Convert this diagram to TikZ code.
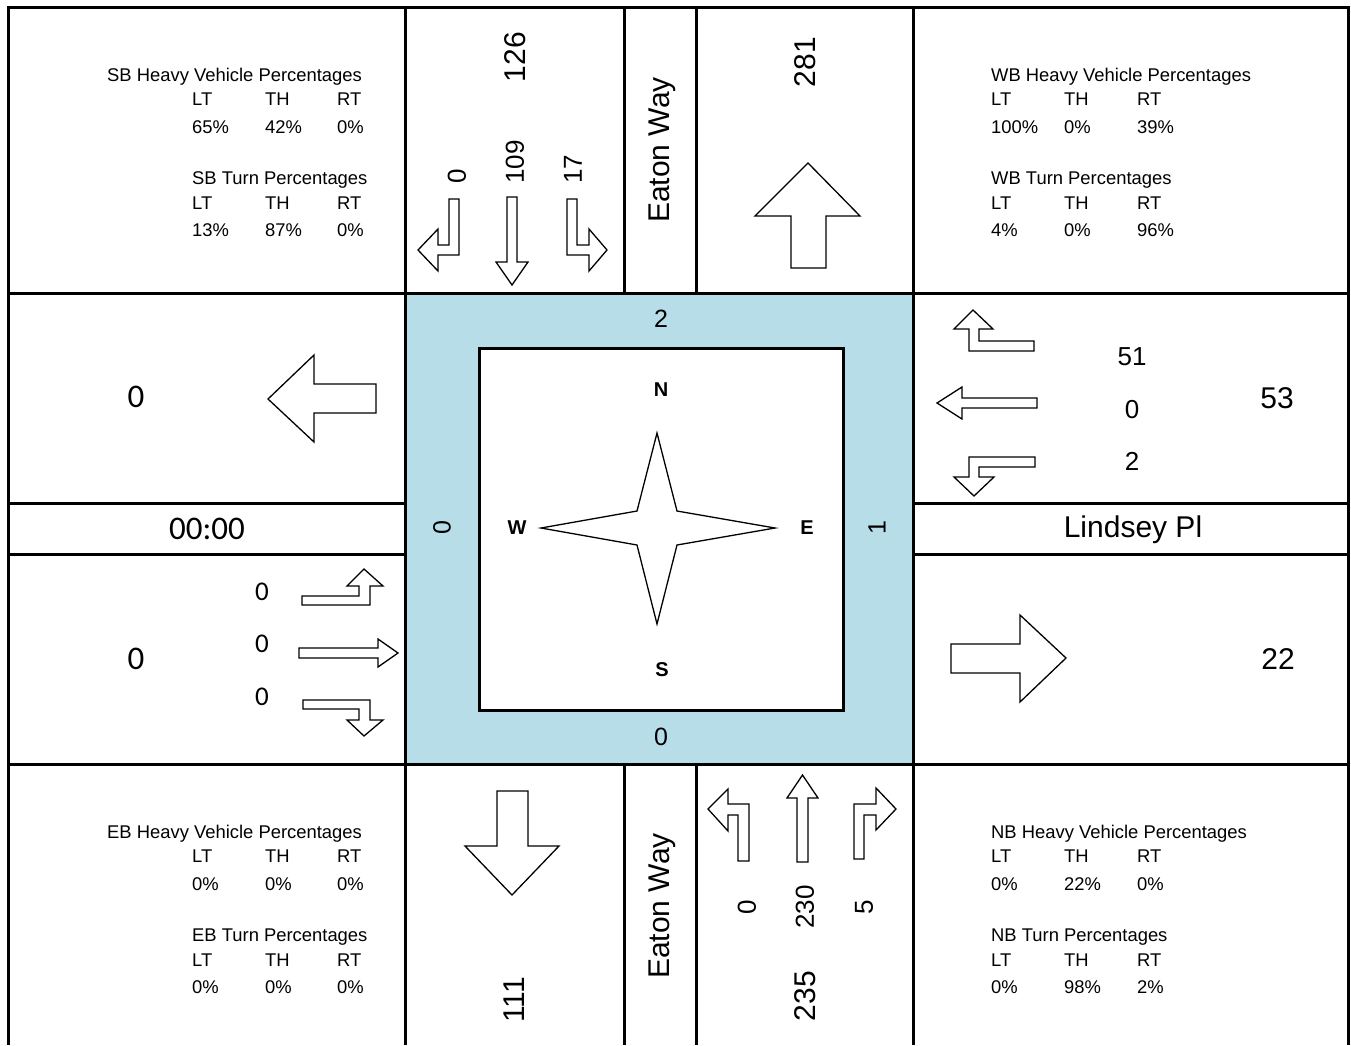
\documentclass[tikz,border=0pt]{standalone}
\usepackage{fontspec}
\setmainfont{Liberation Sans}
\newfontfamily\calfont{Carlito}
\definecolor{centreblue}{HTML}{B7DDE8}
\begin{document}
\begin{tikzpicture}[x=1pt,y=-1pt,
  gridline/.style={line width=3pt},
  arr/.style={draw, line width=1.3pt, fill=white, line join=miter},
  big/.style={font=\fontsize{30}{36}\selectfont, inner sep=0pt},
  lane/.style={font=\fontsize{26}{30}\selectfont, inner sep=0pt},
  bluenum/.style={font=\fontsize{25}{30}\selectfont, inner sep=0pt},
  small/.style={font=\fontsize{18.4}{22}\selectfont, inner sep=0pt, anchor=base west},
  cmp/.style={font=\bfseries\fontsize{20}{24}\selectfont, inner sep=0pt},
  calbig/.style={font=\calfont\fontsize{33}{38}\selectfont, inner sep=0pt},
  callane/.style={font=\calfont\fontsize{27}{32}\selectfont, inner sep=0pt}]
\useasboundingbox (0,0) rectangle (1351,1045);
% centre
\fill[centreblue] (405.5,293) rectangle (913.5,764.5);
\draw[line width=3pt, fill=white] (479,348) rectangle (843,710);
% grid
\draw[gridline] (8.5,7.5) -- (1348.5,7.5);
\draw[gridline] (8.5,6) -- (8.5,1045);
\draw[gridline] (1348.5,6) -- (1348.5,1045);
\draw[gridline] (405.5,6) -- (405.5,1045);
\draw[gridline] (913.5,6) -- (913.5,1045);
\draw[gridline] (624.5,7.5) -- (624.5,293);
\draw[gridline] (696,7.5) -- (696,293);
\draw[gridline] (624.5,764.5) -- (624.5,1045);
\draw[gridline] (696,764.5) -- (696,1045);
\draw[gridline] (7,293) -- (1350,293);
\draw[gridline] (7,764.5) -- (1350,764.5);
\draw[gridline] (7,503.5) -- (405.5,503.5);
\draw[gridline] (7,554.5) -- (405.5,554.5);
\draw[gridline] (913.5,503.5) -- (1350,503.5);
\draw[gridline] (913.5,554.5) -- (1350,554.5);
% compass star
\draw[line width=1.3pt, fill=white, line join=miter] (657,433) -- (677,511) -- (775,528) -- (677,545) -- (657,624) -- (637,545) -- (541,528) -- (637,511) -- cycle;
\node[cmp] (cn) at (661,390) {N};
\node[cmp] (cs) at (662,670) {S};
\node[cmp] (cw) at (517,528) {W};
\node[cmp] (ce) at (807,528) {E};
\node[bluenum] (bn) at (661,319) {2};
\node[bluenum] (bs) at (661,737) {0};
\node[bluenum, rotate=90] (bw) at (442,528) {0};
\node[bluenum, rotate=90] (be) at (877,528) {1};
% SB approach
\draw[arr] (459,199) -- (449,199) -- (449,245) -- (438,245) -- (438,229) -- (418,250) -- (438,271) -- (438,255) -- (459,255) -- cycle;
\draw[arr] (507,197) -- (517,197) -- (517,262) -- (528,262) -- (512,285) -- (496,262) -- (507,262) -- cycle;
\draw[arr] (567,199) -- (577,199) -- (577,245) -- (589,245) -- (589,229) -- (607,250) -- (589,271) -- (589,255) -- (567,255) -- cycle;
\node[big, rotate=90] (sbtot) at (515,57) {126};
\node[lane, rotate=90, anchor=west] (sblt) at (457,184) {0};
\node[lane, rotate=90, anchor=west] (sbth) at (515,184) {109};
\node[lane, rotate=90, anchor=west] (sbrt) at (573,184) {17};
\node[big, rotate=90] (eatonn) at (662,150) {Eaton Way};
% N exit
\draw[arr] (808,163) -- (860,216) -- (826,216) -- (826,268) -- (791,268) -- (791,216) -- (755,216) -- cycle;
\node[big, rotate=90] (nexit) at (805,62) {281};
% W exit
\draw[arr] (268,399) -- (314,355) -- (314,384) -- (376,384) -- (376,413) -- (314,413) -- (314,442) -- cycle;
\node[calbig] (wexit) at (136,397) {0};
\node[calbig] (time) at (207,529) {00:00};
% EB approach
\draw[arr] (302,605) -- (370,605) -- (370,586) -- (383,586) -- (364,569) -- (347,586) -- (359,586) -- (359,596) -- (302,596) -- cycle;
\draw[arr] (299,648) -- (378,648) -- (378,639) -- (398,653) -- (378,667) -- (378,658) -- (299,658) -- cycle;
\draw[arr] (303,700) -- (370,700) -- (370,720) -- (383,720) -- (364,736) -- (347,720) -- (359,720) -- (359,709) -- (303,709) -- cycle;
\node[calbig] (ebtot) at (136,659) {0};
\node[callane] (eblt) at (262,592) {0};
\node[callane] (ebth) at (262,644) {0};
\node[callane] (ebrt) at (262,697) {0};
% WB approach
\draw[arr] (1034,351) -- (969,351) -- (969,329) -- (954,329) -- (973,310) -- (993,329) -- (979,329) -- (979,341) -- (1034,341) -- cycle;
\draw[arr] (1037,398) -- (962,398) -- (962,387) -- (937,403) -- (962,419) -- (962,408) -- (1037,408) -- cycle;
\draw[arr] (1035,457) -- (969,457) -- (969,477) -- (954,477) -- (974,496) -- (994,477) -- (979,477) -- (979,467) -- (1035,467) -- cycle;
\node[lane] (wblt) at (1132,357) {51};
\node[lane] (wbth) at (1132,410) {0};
\node[lane] (wbrt) at (1132,461) {2};
\node[big] (wbtot) at (1277,398) {53};
\node[big] (lindsey) at (1133,530) {Lindsey Pl};
% E exit
\draw[arr] (1066,658) -- (1020,615) -- (1020,644) -- (951,644) -- (951,673) -- (1020,673) -- (1020,702) -- cycle;
\node[big] (eexit) at (1278,659) {22};
% S exit
\draw[arr] (497,791) -- (528,791) -- (528,846) -- (559,846) -- (512,895) -- (465,846) -- (497,846) -- cycle;
\node[big, rotate=90] (sexit) at (514,1000) {111};
\node[big, rotate=90] (eatons) at (662,906) {Eaton Way};
% NB approach
\draw[arr] (749,861) -- (738,861) -- (738,815) -- (728,815) -- (728,831) -- (708,809) -- (728,789) -- (728,804) -- (749,804) -- cycle;
\draw[arr] (797,862) -- (808,862) -- (808,798) -- (818,798) -- (802.5,775) -- (787,798) -- (797,798) -- cycle;
\draw[arr] (854,859) -- (864,859) -- (864,815) -- (876,815) -- (876,830) -- (896,809) -- (876,788) -- (876,804) -- (854,804) -- cycle;
\node[lane, rotate=90] (nblt) at (747,907) {0};
\node[lane, rotate=90] (nbth) at (805,907) {230};
\node[lane, rotate=90] (nbrt) at (864,907) {5};
\node[big, rotate=90] (nbtot) at (805,996) {235};
% SB text
\node[small] (sbh) at (107,81) {SB Heavy Vehicle Percentages};
\node[small] (sbh1) at (192,105) {LT};
\node[small] (sbh2) at (265,105) {TH};
\node[small] (sbh3) at (337,105) {RT};
\node[small] (sbh4) at (192,133) {65\%};
\node[small] (sbh5) at (265,133) {42\%};
\node[small] (sbh6) at (337,133) {0\%};
\node[small] (sbt) at (192,184) {SB Turn Percentages};
\node[small] (sbt1) at (192,209) {LT};
\node[small] (sbt2) at (265,209) {TH};
\node[small] (sbt3) at (337,209) {RT};
\node[small] (sbt4) at (192,236) {13\%};
\node[small] (sbt5) at (265,236) {87\%};
\node[small] (sbt6) at (337,236) {0\%};
% WB text
\node[small] (wbh) at (991,81) {WB Heavy Vehicle Percentages};
\node[small] (wbh1) at (991,105) {LT};
\node[small] (wbh2) at (1064,105) {TH};
\node[small] (wbh3) at (1137,105) {RT};
\node[small] (wbh4) at (991,133) {100\%};
\node[small] (wbh5) at (1064,133) {0\%};
\node[small] (wbh6) at (1137,133) {39\%};
\node[small] (wbt) at (991,184) {WB Turn Percentages};
\node[small] (wbt1) at (991,209) {LT};
\node[small] (wbt2) at (1064,209) {TH};
\node[small] (wbt3) at (1137,209) {RT};
\node[small] (wbt4) at (991,236) {4\%};
\node[small] (wbt5) at (1064,236) {0\%};
\node[small] (wbt6) at (1137,236) {96\%};
% EB text
\node[small] (ebh) at (107,838) {EB Heavy Vehicle Percentages};
\node[small] (ebh1) at (192,862) {LT};
\node[small] (ebh2) at (265,862) {TH};
\node[small] (ebh3) at (337,862) {RT};
\node[small] (ebh4) at (192,890) {0\%};
\node[small] (ebh5) at (265,890) {0\%};
\node[small] (ebh6) at (337,890) {0\%};
\node[small] (ebt) at (192,941) {EB Turn Percentages};
\node[small] (ebt1) at (192,966) {LT};
\node[small] (ebt2) at (265,966) {TH};
\node[small] (ebt3) at (337,966) {RT};
\node[small] (ebt4) at (192,993) {0\%};
\node[small] (ebt5) at (265,993) {0\%};
\node[small] (ebt6) at (337,993) {0\%};
% NB text
\node[small] (nbh) at (991,838) {NB Heavy Vehicle Percentages};
\node[small] (nbh1) at (991,862) {LT};
\node[small] (nbh2) at (1064,862) {TH};
\node[small] (nbh3) at (1137,862) {RT};
\node[small] (nbh4) at (991,890) {0\%};
\node[small] (nbh5) at (1064,890) {22\%};
\node[small] (nbh6) at (1137,890) {0\%};
\node[small] (nbt) at (991,941) {NB Turn Percentages};
\node[small] (nbt1) at (991,966) {LT};
\node[small] (nbt2) at (1064,966) {TH};
\node[small] (nbt3) at (1137,966) {RT};
\node[small] (nbt4) at (991,993) {0\%};
\node[small] (nbt5) at (1064,993) {98\%};
\node[small] (nbt6) at (1137,993) {2\%};
\end{tikzpicture}
\end{document}
